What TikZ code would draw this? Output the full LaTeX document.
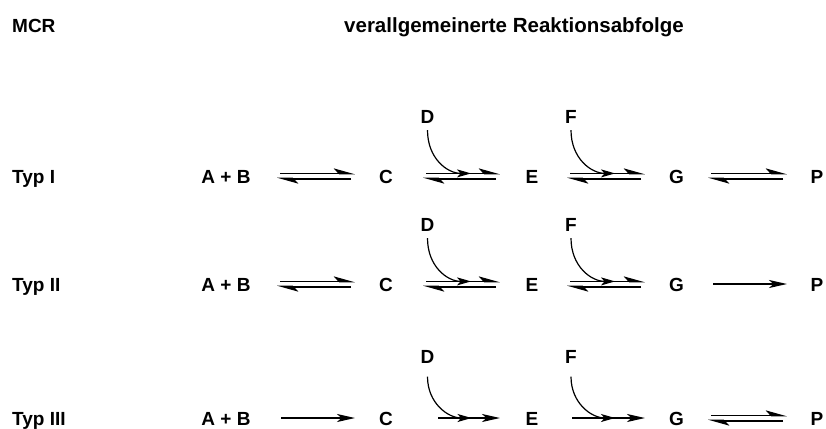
\documentclass[tikz,border=0pt]{standalone}
\usepackage{fontspec}
\setmainfont{Liberation Sans}
\usetikzlibrary{arrows.meta}
\tikzset{
  lbl/.style={font=\fontsize{19}{22}\selectfont\bfseries, inner sep=0pt, anchor=base},
  lblw/.style={lbl, anchor=base west},
  mainline/.style={line width=1.8pt},
  eqtop/.style={mainline, -{Stealth[harpoon, length=18pt, width=10pt, inset=4.5pt]}},
  eqbot/.style={mainline, -{Stealth[harpoon, length=18pt, width=10pt, inset=4.5pt]}},
  single/.style={mainline, -{Stealth[length=18pt, width=8pt, inset=4.5pt]}},
  curv/.style={line width=1.2pt, -{Stealth[length=14pt, width=8pt, inset=3.5pt]}}
}
\newcommand\eqarr[4]{% name, x0, x1, y
  \coordinate (#1s) at (#2,#4);
  \coordinate (#1e) at (#3,#4);
  \draw[eqtop] ([shift={(3,-2.6)}]#1s) -- ([shift={(0,-2.6)}]#1e);
  \draw[eqbot] ([shift={(-4,2.6)}]#1e) -- ([shift={(0,2.6)}]#1s);}
\newcommand\sgarr[4]{% name, x0, x1, y
  \coordinate (#1s) at (#2,#4);
  \coordinate (#1e) at (#3,#4);
  \draw[single] (#1s) -- (#1e);}
\begin{document}
\begin{tikzpicture}[x=1pt,y=-1pt]
\useasboundingbox (0,0) rectangle (826,428);

\node[lblw] (mcr) at (12,33) {MCR};
\node[lblw, font=\fontsize{20.5}{24}\selectfont\bfseries] (title) at (344,33) {verallgemeinerte Reaktionsabfolge};

% ---------- Typ I ----------
\node[lblw] (t1) at (12,183) {Typ I};
\node[lbl] (ab1) at (226,183) {A + B};
\node[lbl] (c1) at (386,183) {C};
\node[lbl] (e1) at (532,183) {E};
\node[lbl] (g1) at (676.5,183) {G};
\node[lbl] (p1) at (817,183) {P};
\node[lbl] (d1) at (427.5,123) {D};
\node[lbl] (f1) at (571,123) {F};
\eqarr{r1a}{277}{355}{176}
\eqarr{r1b}{423}{500}{176}
\eqarr{r1c}{567}{645}{176}
\eqarr{r1d}{708}{787}{176}
\draw[curv] ([yshift=-7pt]d1.south) .. controls +(0,28) and +(-24,0) .. ([shift={(48,-2.6)}]r1bs);
\draw[curv] ([yshift=-7pt]f1.south) .. controls +(0,28) and +(-24,0) .. ([shift={(48,-2.6)}]r1cs);

% ---------- Typ II ----------
\node[lblw] (t2) at (12,291) {Typ II};
\node[lbl] (ab2) at (226,291) {A + B};
\node[lbl] (c2) at (386,291) {C};
\node[lbl] (e2) at (532,291) {E};
\node[lbl] (g2) at (676.5,291) {G};
\node[lbl] (p2) at (817,291) {P};
\node[lbl] (d2) at (427.5,231) {D};
\node[lbl] (f2) at (571,231) {F};
\eqarr{r2a}{277}{355}{284}
\eqarr{r2b}{423}{500}{284}
\eqarr{r2c}{567}{645}{284}
\sgarr{r2d}{713}{787}{284}
\draw[curv] ([yshift=-7pt]d2.south) .. controls +(0,28) and +(-24,0) .. ([shift={(48,-2.6)}]r2bs);
\draw[curv] ([yshift=-7pt]f2.south) .. controls +(0,28) and +(-24,0) .. ([shift={(48,-2.6)}]r2cs);

% ---------- Typ III ----------
\node[lblw] (t3) at (12,425) {Typ III};
\node[lbl] (ab3) at (226,425) {A + B};
\node[lbl] (c3) at (386,425) {C};
\node[lbl] (e3) at (532,425) {E};
\node[lbl] (g3) at (676.5,425) {G};
\node[lbl] (p3) at (817,425) {P};
\node[lbl] (d3) at (427.5,363.5) {D};
\node[lbl] (f3) at (571,363.5) {F};
\sgarr{r3a}{281}{355}{418}
\sgarr{r3b}{438}{500}{418}
\sgarr{r3c}{572}{645}{418}
\eqarr{r3d}{708}{787}{418}
\draw[curv] ([yshift=-13pt]d3.south) .. controls +(0,26) and +(-24,0) .. ([xshift=44pt]r3bs-|d3.south);
\draw[curv] ([yshift=-13pt]f3.south) .. controls +(0,26) and +(-24,0) .. ([xshift=44pt]r3cs-|f3.south);
\end{tikzpicture}
\end{document}
